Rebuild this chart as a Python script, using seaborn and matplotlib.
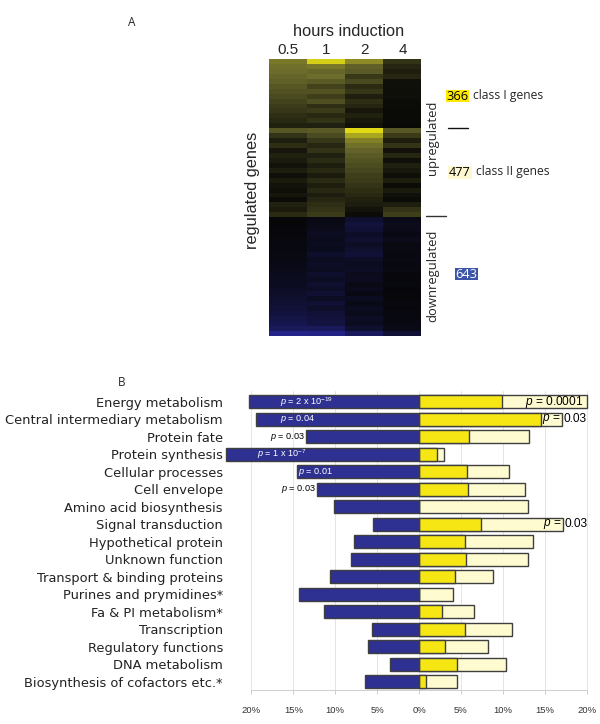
import matplotlib
matplotlib.use('Agg')
import numpy as np
import pandas as pd
import seaborn as sns
import matplotlib.pyplot as plt
from matplotlib.colors import LinearSegmentedColormap
from matplotlib.patches import Rectangle

W, H = 600, 724

hours = ['0.5', '1', '2', '4']

# heatmap rows, top to bottom (+ up, - down)
class1_rows = [
    [0.55, 0.88, 0.62, 0.22],
    [0.52, 0.55, 0.45, 0.15],
    [0.50, 0.48, 0.42, 0.12],
    [0.47, 0.50, 0.25, 0.16],
    [0.44, 0.42, 0.34, 0.05],
    [0.40, 0.30, 0.18, 0.05],
    [0.37, 0.38, 0.24, 0.04],
    [0.34, 0.28, 0.12, 0.04],
    [0.30, 0.36, 0.20, 0.03],
    [0.27, 0.20, 0.15, 0.03],
    [0.24, 0.26, 0.08, 0.02],
    [0.20, 0.17, 0.14, 0.02],
    [0.17, 0.22, 0.09, 0.02],
    [0.14, 0.13, 0.06, 0.01],
]
class2_rows = [
    [0.40, 0.42, 0.92, 0.40],
    [0.22, 0.34, 0.72, 0.26],
    [0.12, 0.24, 0.58, 0.12],
    [0.20, 0.16, 0.52, 0.22],
    [0.08, 0.22, 0.46, 0.06],
    [0.14, 0.13, 0.42, 0.16],
    [0.10, 0.19, 0.38, 0.05],
    [0.06, 0.12, 0.35, 0.13],
    [0.12, 0.17, 0.32, 0.09],
    [0.05, 0.10, 0.28, 0.04],
    [0.10, 0.18, 0.26, 0.12],
    [0.07, 0.12, 0.23, 0.03],
    [0.04, 0.17, 0.20, 0.10],
    [0.08, 0.11, 0.17, 0.05],
    [0.03, 0.16, 0.14, 0.03],
    [0.14, 0.20, 0.11, 0.12],
    [0.10, 0.22, 0.07, 0.22],
    [0.18, 0.26, 0.03, 0.28],
]
down_rows = [
    [-0.02, -0.07, -0.20, -0.08],
    [-0.02, -0.08, -0.26, -0.10],
    [-0.03, -0.10, -0.22, -0.09],
    [-0.03, -0.14, -0.16, -0.07],
    [-0.04, -0.10, -0.20, -0.10],
    [-0.05, -0.13, -0.15, -0.06],
    [-0.05, -0.11, -0.19, -0.06],
    [-0.06, -0.18, -0.24, -0.05],
    [-0.07, -0.12, -0.15, -0.07],
    [-0.08, -0.15, -0.12, -0.04],
    [-0.09, -0.13, -0.15, -0.06],
    [-0.11, -0.18, -0.10, -0.03],
    [-0.12, -0.14, -0.13, -0.03],
    [-0.13, -0.20, -0.08, -0.04],
    [-0.15, -0.15, -0.11, -0.02],
    [-0.17, -0.21, -0.07, -0.03],
    [-0.19, -0.14, -0.12, -0.02],
    [-0.21, -0.22, -0.08, -0.04],
    [-0.24, -0.17, -0.12, -0.03],
    [-0.26, -0.24, -0.09, -0.05],
    [-0.30, -0.26, -0.15, -0.04],
    [-0.34, -0.28, -0.12, -0.07],
    [-0.40, -0.40, -0.20, -0.08],
    [-0.62, -0.60, -0.42, -0.22],
]

categories = [
    'Energy metabolism', 'Central intermediary metabolism', 'Protein fate',
    'Protein synthesis', 'Cellular processes', 'Cell envelope',
    'Amino acid biosynthesis', 'Signal transduction', 'Hypothetical protein',
    'Unknown function', 'Transport & binding proteins', 'Purines and prymidines*',
    'Fa & PI metabolism*', 'Transcription', 'Regulatory functions',
    'DNA metabolism', 'Biosynthesis of cofactors etc.*',
]
down_pct = [-20.3, -19.5, -13.5, -23.0, -14.6, -12.15, -10.1, -5.5, -7.8,
            -8.1, -10.6, -14.3, -11.3, -5.6, -6.1, -3.5, -6.45]
class1_pct = [9.95, 14.6, 6.0, 2.2, 5.75, 5.9, 0, 7.45, 5.5,
              5.65, 4.35, 0, 2.8, 5.5, 3.15, 4.55, 0.87]
total_pct = [20.0, 17.1, 13.15, 3.0, 10.7, 12.65, 13.05, 17.2, 13.65,
             12.97, 8.77, 4.1, 6.6, 11.15, 8.2, 10.35, 4.57]
pct_ticks = [-20, -15, -10, -5, 0, 5, 10, 15, 20]

sns.set_style('white')
plt.rcParams['font.family'] = ['Liberation Sans', 'DejaVu Sans']
plt.rcParams['mathtext.fontset'] = 'custom'
plt.rcParams['mathtext.it'] = 'Liberation Sans:italic'
plt.rcParams['mathtext.rm'] = 'Liberation Sans'
plt.rcParams['mathtext.default'] = 'rm'

DARK = '#3f3f3f'
BLUE = '#2e3192'
YELLOW = '#f5e614'
PALE = '#fffbd0'


def axes_px(fig, left, top, right, bottom):
    return fig.add_axes([left / W, 1 - bottom / H, (right - left) / W, (bottom - top) / H])


def put(fig, x, y, s, **kw):
    kw.setdefault('ha', 'center')
    kw.setdefault('va', 'center')
    fig.text(x / W, 1 - y / H, s, **kw)


fig = plt.figure(figsize=(W / 100, H / 100), dpi=100)

# panel A
matrix = pd.DataFrame(class1_rows + class2_rows + down_rows, columns=hours)
cmap = LinearSegmentedColormap.from_list(
    'by', [(0, '#3434d8'), (0.5, '#060606'), (0.75, '#6a6a2c'), (1, '#f6ee10')])
ax_a = axes_px(fig, 269, 59, 421.5, 336)
sns.heatmap(matrix, ax=ax_a, cmap=cmap, vmin=-1, vmax=1, cbar=False, yticklabels=False)
ax_a.xaxis.tick_top()
ax_a.tick_params(axis='x', length=0, pad=1.5, labelsize=11, labelrotation=0)
ax_a.set_xlabel('')

put(fig, 349, 31.5, 'hours induction', fontsize=11.8)
put(fig, 253, 190, 'regulated genes', fontsize=11.8, rotation=90)
put(fig, 433, 138, 'upregulated', fontsize=9.4, family='Open Sans', rotation=90)
put(fig, 433, 276, 'downregulated', fontsize=9.4, family='Open Sans', rotation=90)
put(fig, 132, 22, 'A', fontsize=8.5, family='Open Sans')
put(fig, 122, 382, 'B', fontsize=8.5, family='Open Sans')

fig.add_artist(plt.Line2D([448 / W, 468 / W], [1 - 128 / H] * 2, color='#111111', lw=1))
fig.add_artist(plt.Line2D([426 / W, 446 / W], [1 - 216 / H] * 2, color='#333333', lw=1))

boxes = [(446, 90, 23, 12, '#ffe900', '366', 'black'),
         (448, 166, 24, 13, '#fdf8d0', '477', 'black'),
         (455, 268, 23, 12, '#3c55a8', '643', 'white')]
for bx, by, bw, bh, col, txt, tc in boxes:
    fig.add_artist(Rectangle((bx / W, 1 - (by + bh) / H), bw / W, bh / H, color=col, lw=0,
                             transform=fig.transFigure))
    put(fig, bx + bw / 2, by + bh / 2, txt, fontsize=9.2, family='Open Sans', color=tc)
put(fig, 473, 96, 'class I genes', fontsize=8.7, family='Open Sans', ha='left')
put(fig, 476, 172, 'class II genes', fontsize=8.7, family='Open Sans', ha='left')

# panel B
df = pd.DataFrame({'category': categories, 'down': down_pct,
                   'class1': class1_pct, 'total': total_pct})
ax_b = axes_px(fig, 223, 391, 595, 690)
bar_kw = dict(data=df, y='category', ax=ax_b, width=0.74, edgecolor=DARK, linewidth=1,
              orient='h', native_scale=False)
sns.barplot(x='total', color=PALE, saturation=1, **bar_kw)
sns.barplot(x='class1', color=YELLOW, saturation=1, **bar_kw)
sns.barplot(x='down', color=BLUE, saturation=1, **bar_kw)

ax_b.set_xlim(-23.39, 21)
ax_b.set_ylim(16.47, -0.61)
ax_b.set_xlabel('')
ax_b.set_ylabel('')
ax_b.set_xticks(pct_ticks)
ax_b.set_xticklabels([f'{abs(t)}%' for t in pct_ticks], fontsize=6.8, color='#333333')
ax_b.tick_params(axis='x', length=3, width=0.6, color='#c8c8c8', pad=8.5, bottom=True)
ax_b.tick_params(axis='y', length=0, pad=0, labelsize=9.4, labelcolor='#222222')
for lab in ax_b.get_yticklabels():
    lab.set_family(['DejaVu Sans'])
ax_b.set_axisbelow(True)
ax_b.xaxis.grid(True, color='#e4e4e4', lw=0.7)
ax_b.yaxis.grid(False)
sns.despine(ax=ax_b, left=True, right=True, top=True)
ax_b.spines['bottom'].set_bounds(-20, 20)
ax_b.spines['bottom'].set_color('#c8c8c8')
ax_b.spines['bottom'].set_linewidth(0.6)

P = r'$\mathit{p}$'
p_size = 6.6
ax_b.text(-16.6, 0, P + r' = 2 x 10$^{-19}$', color='white', fontsize=p_size, va='center')
ax_b.text(-16.6, 1, P + ' = 0.04', color='white', fontsize=p_size, va='center')
ax_b.text(-13.6, 2, P + ' = 0.03', color='black', fontsize=p_size, va='center', ha='right')
ax_b.text(-19.3, 3, P + r' = 1 x 10$^{-7}$', color='white', fontsize=p_size, va='center')
ax_b.text(-14.4, 4, P + ' = 0.01', color='white', fontsize=p_size, va='center')
ax_b.text(-12.3, 5, P + ' = 0.03', color='black', fontsize=p_size, va='center', ha='right')
ax_b.text(19.6, 0, P + ' = 0.0001', color='black', fontsize=8.6, va='center', ha='right')
ax_b.text(16.9, 1, P + ' =', color='black', fontsize=8.6, va='center', ha='right')
ax_b.text(17.3, 1, '0.03', color='black', fontsize=8.6, va='center')
ax_b.text(17.0, 7, P + ' =', color='black', fontsize=8.6, va='center', ha='right')
ax_b.text(17.4, 7, '0.03', color='black', fontsize=8.6, va='center')

plt.savefig('out.png', dpi=100)
